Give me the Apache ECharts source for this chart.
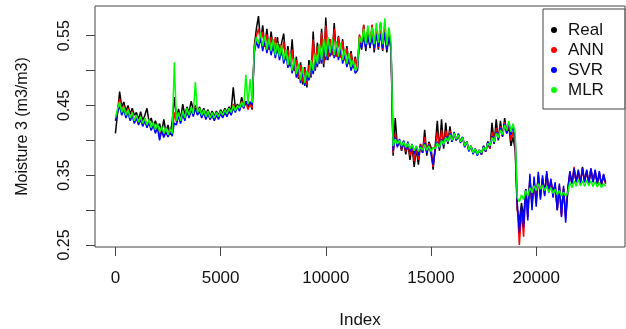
<!DOCTYPE html>
<html>
<head>
<meta charset="utf-8">
<title>Moisture 3</title>
<script src="https://cdn.jsdelivr.net/npm/echarts@6.0.0/dist/echarts.min.js"></script>
<style>
  html, body { margin: 0; padding: 0; background: #fff; }
  #chart { width: 626px; height: 329px; }
</style>
</head>
<body>
<div id="chart"></div>
<script>
// one value every 100 samples
const step = 100;

const real = [
  0.410, 0.438, 0.470, 0.448, 0.455, 0.442, 0.450, 0.438, 0.446, 0.436,
  0.440, 0.430, 0.441, 0.428, 0.436, 0.446, 0.426, 0.432, 0.420, 0.428,
  0.418, 0.424, 0.412, 0.430, 0.412, 0.422, 0.408, 0.428, 0.462, 0.432,
  0.445, 0.430, 0.452, 0.436, 0.448, 0.440, 0.456, 0.444, 0.450, 0.440,
  0.448, 0.438, 0.446, 0.437, 0.444, 0.435, 0.442, 0.434, 0.442, 0.436,
  0.444, 0.438, 0.446, 0.440, 0.448, 0.442, 0.476, 0.446, 0.452, 0.446,
  0.462, 0.450, 0.456, 0.448, 0.455, 0.444, 0.535, 0.560, 0.578, 0.540,
  0.565, 0.535, 0.560, 0.530, 0.556, 0.532, 0.525, 0.548, 0.520, 0.540,
  0.553, 0.515, 0.535, 0.506, 0.545, 0.500, 0.520, 0.488, 0.512, 0.480,
  0.505, 0.476, 0.515, 0.490, 0.556, 0.500, 0.540, 0.510, 0.560, 0.505,
  0.576, 0.515, 0.545, 0.522, 0.568, 0.520, 0.550, 0.518, 0.545, 0.515,
  0.535, 0.510, 0.528, 0.505, 0.520, 0.500, 0.550, 0.530, 0.565, 0.528,
  0.558, 0.532, 0.565, 0.526, 0.560, 0.530, 0.568, 0.528, 0.560, 0.526,
  0.550, 0.530, 0.378, 0.432, 0.392, 0.400, 0.385, 0.398, 0.380, 0.395,
  0.372, 0.392, 0.362, 0.388, 0.365, 0.395, 0.382, 0.415, 0.378, 0.398,
  0.390, 0.358, 0.392, 0.428, 0.385, 0.430, 0.388, 0.425, 0.395, 0.420,
  0.398, 0.410, 0.400, 0.408, 0.398, 0.404, 0.392, 0.398, 0.386, 0.392,
  0.382, 0.388, 0.380, 0.386, 0.380, 0.392, 0.384, 0.398, 0.388, 0.425,
  0.395, 0.430, 0.400, 0.428, 0.405, 0.432, 0.410, 0.420, 0.392, 0.405,
  0.386, 0.300, 0.285, 0.310, 0.290, 0.330, 0.300, 0.345, 0.310, 0.340,
  0.315, 0.350, 0.320, 0.345, 0.325, 0.352, 0.330, 0.340, 0.328, 0.336,
  0.300, 0.334, 0.295, 0.330, 0.292, 0.328, 0.352, 0.338, 0.358, 0.340,
  0.355, 0.338, 0.362, 0.340, 0.356, 0.338, 0.358, 0.340, 0.355, 0.338,
  0.352, 0.336, 0.348, 0.338
];

const ann = [
  0.430, 0.442, 0.460, 0.440, 0.450, 0.436, 0.446, 0.432, 0.442, 0.428,
  0.436, 0.424, 0.434, 0.422, 0.432, 0.420, 0.428, 0.416, 0.424, 0.412,
  0.420, 0.406, 0.416, 0.406, 0.414, 0.406, 0.414, 0.408, 0.440, 0.426,
  0.438, 0.426, 0.440, 0.430, 0.444, 0.434, 0.446, 0.436, 0.448, 0.438,
  0.444, 0.434, 0.442, 0.432, 0.440, 0.430, 0.438, 0.430, 0.438, 0.432,
  0.440, 0.434, 0.442, 0.436, 0.444, 0.438, 0.452, 0.442, 0.450, 0.444,
  0.456, 0.446, 0.456, 0.444, 0.452, 0.446, 0.530, 0.550, 0.560, 0.540,
  0.556, 0.534, 0.552, 0.530, 0.548, 0.530, 0.548, 0.525, 0.538, 0.522,
  0.542, 0.515, 0.530, 0.508, 0.530, 0.500, 0.515, 0.490, 0.508, 0.484,
  0.502, 0.480, 0.508, 0.492, 0.545, 0.502, 0.535, 0.512, 0.555, 0.510,
  0.565, 0.518, 0.545, 0.522, 0.560, 0.520, 0.548, 0.518, 0.542, 0.515,
  0.532, 0.510, 0.525, 0.505, 0.518, 0.502, 0.552, 0.534, 0.566, 0.532,
  0.560, 0.534, 0.566, 0.530, 0.562, 0.532, 0.568, 0.530, 0.564, 0.530,
  0.552, 0.532, 0.382, 0.410, 0.392, 0.400, 0.386, 0.398, 0.384, 0.396,
  0.378, 0.393, 0.370, 0.390, 0.372, 0.394, 0.384, 0.405, 0.382, 0.396,
  0.386, 0.362, 0.390, 0.412, 0.388, 0.415, 0.392, 0.414, 0.396, 0.414,
  0.400, 0.410, 0.400, 0.408, 0.398, 0.404, 0.392, 0.398, 0.386, 0.392,
  0.382, 0.388, 0.380, 0.386, 0.380, 0.392, 0.384, 0.398, 0.388, 0.412,
  0.396, 0.418, 0.402, 0.420, 0.406, 0.426, 0.410, 0.424, 0.400, 0.412,
  0.395, 0.305, 0.250, 0.300, 0.262, 0.325, 0.290, 0.345, 0.305, 0.342,
  0.310, 0.350, 0.318, 0.346, 0.322, 0.352, 0.328, 0.342, 0.322, 0.336,
  0.302, 0.335, 0.292, 0.332, 0.288, 0.328, 0.354, 0.338, 0.362, 0.340,
  0.356, 0.338, 0.360, 0.340, 0.357, 0.338, 0.360, 0.340, 0.356, 0.338,
  0.354, 0.336, 0.350, 0.338
];

const svr = [
  0.428, 0.440, 0.450, 0.436, 0.444, 0.432, 0.440, 0.428, 0.436, 0.424,
  0.432, 0.422, 0.430, 0.420, 0.428, 0.418, 0.426, 0.414, 0.422, 0.410,
  0.418, 0.400, 0.414, 0.404, 0.412, 0.405, 0.412, 0.406, 0.425, 0.422,
  0.436, 0.424, 0.438, 0.428, 0.442, 0.432, 0.444, 0.434, 0.446, 0.436,
  0.442, 0.432, 0.440, 0.430, 0.438, 0.430, 0.436, 0.428, 0.436, 0.430,
  0.438, 0.432, 0.440, 0.434, 0.442, 0.436, 0.446, 0.440, 0.448, 0.442,
  0.452, 0.446, 0.456, 0.450, 0.455, 0.450, 0.525, 0.542, 0.532, 0.548,
  0.528, 0.544, 0.525, 0.540, 0.522, 0.538, 0.518, 0.534, 0.515, 0.530,
  0.510, 0.525, 0.504, 0.520, 0.496, 0.512, 0.490, 0.505, 0.482, 0.500,
  0.478, 0.495, 0.486, 0.508, 0.495, 0.518, 0.505, 0.530, 0.510, 0.538,
  0.515, 0.540, 0.520, 0.538, 0.518, 0.535, 0.515, 0.532, 0.510, 0.524,
  0.505, 0.518, 0.500, 0.510, 0.496, 0.500, 0.540, 0.532, 0.548, 0.532,
  0.550, 0.534, 0.548, 0.532, 0.552, 0.534, 0.552, 0.532, 0.555, 0.530,
  0.548, 0.535, 0.385, 0.405, 0.390, 0.402, 0.388, 0.400, 0.386, 0.398,
  0.384, 0.395, 0.380, 0.392, 0.378, 0.392, 0.382, 0.396, 0.382, 0.394,
  0.380, 0.365, 0.386, 0.398, 0.388, 0.402, 0.392, 0.406, 0.396, 0.410,
  0.398, 0.412, 0.400, 0.410, 0.396, 0.405, 0.390, 0.398, 0.384, 0.392,
  0.380, 0.388, 0.378, 0.386, 0.380, 0.392, 0.384, 0.398, 0.390, 0.406,
  0.396, 0.412, 0.402, 0.418, 0.406, 0.424, 0.410, 0.426, 0.408, 0.420,
  0.405, 0.310, 0.268, 0.305, 0.275, 0.330, 0.285, 0.352, 0.300, 0.348,
  0.305, 0.355, 0.315, 0.350, 0.320, 0.356, 0.325, 0.345, 0.318, 0.340,
  0.300, 0.338, 0.290, 0.335, 0.282, 0.330, 0.356, 0.338, 0.360, 0.340,
  0.358, 0.338, 0.360, 0.340, 0.358, 0.338, 0.360, 0.340, 0.358, 0.338,
  0.356, 0.336, 0.352, 0.340
];

const mlr = [
  0.432, 0.445, 0.455, 0.440, 0.448, 0.436, 0.444, 0.432, 0.440, 0.428,
  0.436, 0.426, 0.434, 0.424, 0.432, 0.422, 0.430, 0.418, 0.426, 0.415,
  0.424, 0.412, 0.420, 0.410, 0.418, 0.408, 0.416, 0.410, 0.512, 0.428,
  0.440, 0.428, 0.442, 0.432, 0.446, 0.436, 0.448, 0.438, 0.484, 0.440,
  0.446, 0.436, 0.444, 0.434, 0.442, 0.432, 0.440, 0.432, 0.440, 0.434,
  0.442, 0.436, 0.444, 0.438, 0.446, 0.440, 0.450, 0.442, 0.450, 0.446,
  0.455, 0.448, 0.494, 0.452, 0.488, 0.454, 0.530, 0.548, 0.538, 0.555,
  0.535, 0.550, 0.530, 0.546, 0.528, 0.545, 0.522, 0.540, 0.520, 0.536,
  0.515, 0.530, 0.508, 0.525, 0.500, 0.518, 0.495, 0.510, 0.486, 0.505,
  0.482, 0.500, 0.490, 0.515, 0.500, 0.525, 0.510, 0.538, 0.515, 0.545,
  0.520, 0.548, 0.525, 0.545, 0.522, 0.542, 0.520, 0.540, 0.515, 0.530,
  0.510, 0.525, 0.505, 0.515, 0.500, 0.505, 0.548, 0.540, 0.560, 0.538,
  0.565, 0.540, 0.562, 0.538, 0.568, 0.540, 0.570, 0.538, 0.575, 0.536,
  0.562, 0.540, 0.392, 0.402, 0.395, 0.400, 0.392, 0.398, 0.390, 0.396,
  0.388, 0.394, 0.385, 0.392, 0.384, 0.390, 0.386, 0.394, 0.386, 0.392,
  0.384, 0.390, 0.388, 0.396, 0.390, 0.400, 0.394, 0.404, 0.398, 0.408,
  0.400, 0.410, 0.402, 0.408, 0.398, 0.404, 0.392, 0.398, 0.386, 0.392,
  0.382, 0.388, 0.380, 0.386, 0.382, 0.390, 0.386, 0.396, 0.392, 0.404,
  0.398, 0.410, 0.404, 0.415, 0.408, 0.422, 0.414, 0.428, 0.412, 0.424,
  0.410, 0.318, 0.312, 0.322, 0.315, 0.328, 0.320, 0.332, 0.325, 0.335,
  0.328, 0.338, 0.330, 0.336, 0.328, 0.334, 0.326, 0.332, 0.324, 0.330,
  0.322, 0.328, 0.320, 0.326, 0.320, 0.325, 0.340, 0.332, 0.342, 0.334,
  0.344, 0.335, 0.342, 0.334, 0.343, 0.335, 0.342, 0.334, 0.341, 0.333,
  0.340, 0.332, 0.338, 0.334
];

const xTicks = [0, 5000, 10000, 15000, 20000];
const yTicks = [0.25, 0.30, 0.35, 0.40, 0.45, 0.50, 0.55];
const yLabels = [0.25, 0.35, 0.45, 0.55];

const font = '"Liberation Sans", Arial, sans-serif';
const toPairs = arr => arr.map((v, i) => [i * step, v]);

let myChart = echarts.init(document.getElementById('chart'), null, { renderer: 'canvas' });

function lineSeries(name, color, data) {
  return {
    name: name,
    type: 'line',
    data: toPairs(data),
    color: color,
    showSymbol: false,
    symbol: 'none',
    sampling: null,
    lineStyle: { width: 1.5, color: color },
    emphasis: { disabled: true },
    z: 2
  };
}

let option = {
  animation: false,
  backgroundColor: '#fff',
  grid: {
    left: 95,
    right: 1,
    top: 6,
    bottom: 82,
    outerBoundsMode: 'none',
    show: true,
    borderColor: '#444',
    borderWidth: 1,
    backgroundColor: 'transparent'
  },
  legend: {
    orient: 'vertical',
    left: 543,
    top: 9,
    padding: [11, 21, 9, 8],
    itemGap: 0,
    itemWidth: 18,
    itemHeight: 6,
    icon: 'circle',
    borderColor: '#444',
    borderWidth: 1,
    backgroundColor: '#fff',
    selectedMode: false,
    textStyle: { fontFamily: font, fontSize: 17, color: '#111', lineHeight: 20 },
    data: ['Real', 'ANN', 'SVR', 'MLR']
  },
  xAxis: {
    type: 'value',
    min: -970,
    max: 24220,
    name: 'Index',
    nameLocation: 'middle',
    nameGap: 65,
    nameTextStyle: { fontFamily: font, fontSize: 17, color: '#111' },
    axisLine: { show: false, onZero: false },
    splitLine: { show: false },
    axisTick: { show: true, inside: false, length: 9, customValues: xTicks, lineStyle: { color: '#444' } },
    axisLabel: {
      customValues: xTicks,
      margin: 23,
      fontFamily: font,
      fontSize: 17,
      color: '#111',
      formatter: v => String(v)
    }
  },
  yAxis: {
    type: 'value',
    min: 0.2471,
    max: 0.5926,
    name: 'Moisture 3 (m3/m3)',
    nameLocation: 'middle',
    nameRotate: 90,
    nameGap: 64,
    nameTextStyle: { fontFamily: font, fontSize: 16, color: '#111' },
    axisLine: { show: false, onZero: false },
    splitLine: { show: false },
    axisTick: { show: true, inside: false, length: 9, customValues: yTicks, lineStyle: { color: '#444' } },
    axisLabel: {
      customValues: yLabels,
      rotate: 90,
      margin: 22,
      fontFamily: font,
      fontSize: 16,
      color: '#111',
      formatter: v => v.toFixed(2)
    }
  },
  series: [
    lineSeries('Real', '#000000', real),
    lineSeries('ANN', '#ff0000', ann),
    lineSeries('SVR', '#0000ff', svr),
    lineSeries('MLR', '#00ff00', mlr)
  ]
};

myChart.setOption(option);
</script>
</body>
</html>
